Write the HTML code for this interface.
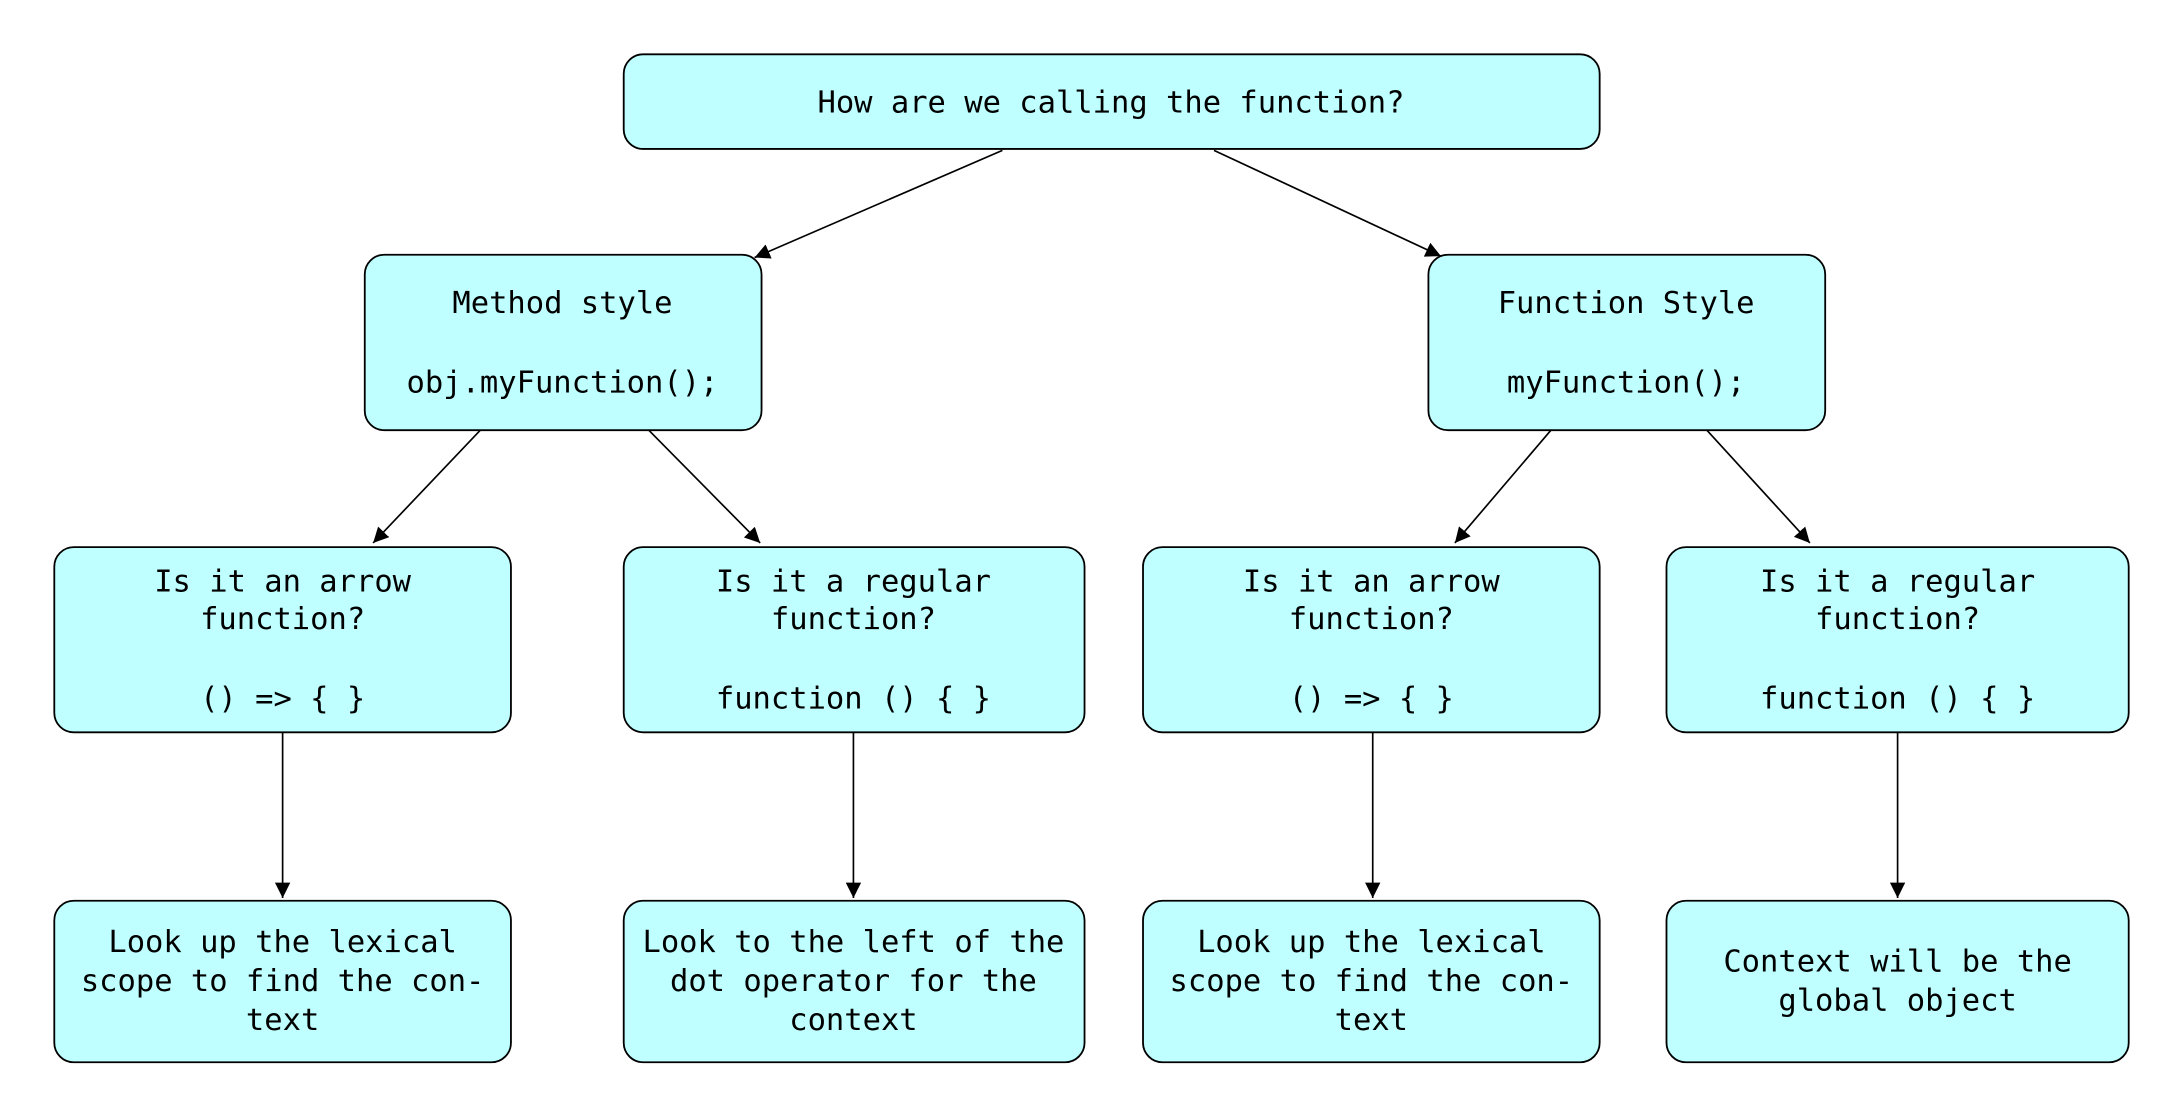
<!DOCTYPE html>
<html><head><meta charset="utf-8"><style>
html,body{margin:0;padding:0;background:#fff;}
svg{display:block}
text{font-family:"DejaVu Sans Mono","Liberation Mono",monospace;font-size:21.9px;fill:#000;text-anchor:middle;dominant-baseline:central}
</style></head><body>
<svg width="2183" height="1116" viewBox="0 0 1568 801.6" preserveAspectRatio="none" xmlns="http://www.w3.org/2000/svg">
<defs><marker id="a" viewBox="0 0 10 10" refX="10" refY="5" markerWidth="11" markerHeight="11" markerUnits="userSpaceOnUse" orient="auto"><path d="M0,0 L10,5 L0,10 z" fill="#000"/></marker></defs>
<g fill="#bfffff" stroke="#000" stroke-width="1.3">
<rect x="448" y="39" width="701" height="68" rx="14"/>
<rect x="262" y="183" width="285" height="126" rx="14"/>
<rect x="1026" y="183" width="285" height="126" rx="14"/>
<rect x="39" y="393" width="328" height="133" rx="14"/>
<rect x="448" y="393" width="331" height="133" rx="14"/>
<rect x="821" y="393" width="328" height="133" rx="14"/>
<rect x="1197" y="393" width="332" height="133" rx="14"/>
<rect x="39" y="647" width="328" height="116" rx="14"/>
<rect x="448" y="647" width="331" height="116" rx="14"/>
<rect x="821" y="647" width="328" height="116" rx="14"/>
<rect x="1197" y="647" width="332" height="116" rx="14"/>
</g>
<g stroke="#000" stroke-width="1.2" marker-end="url(#a)">
<line x1="720" y1="108" x2="542" y2="185"/>
<line x1="872" y1="108" x2="1035" y2="184"/>
<line x1="345" y1="309" x2="268" y2="390"/>
<line x1="466" y1="309" x2="546" y2="390"/>
<line x1="1114" y1="309" x2="1045" y2="390"/>
<line x1="1226" y1="309" x2="1300" y2="390"/>
<line x1="203" y1="526" x2="203" y2="645"/>
<line x1="613" y1="526" x2="613" y2="645"/>
<line x1="986" y1="526" x2="986" y2="645"/>
<line x1="1363" y1="526" x2="1363" y2="645"/>
</g>
<text x="798" y="74">How are we calling the function?</text>
<text x="404" y="218">Method style</text>
<text x="404" y="275">obj.myFunction();</text>
<text x="1168" y="218">Function Style</text>
<text x="1168" y="275">myFunction();</text>
<text x="203" y="418">Is it an arrow</text>
<text x="203" y="445">function?</text>
<text x="203" y="502">() =&gt; { }</text>
<text x="613" y="418">Is it a regular</text>
<text x="613" y="445">function?</text>
<text x="613" y="502">function () { }</text>
<text x="985" y="418">Is it an arrow</text>
<text x="985" y="445">function?</text>
<text x="985" y="502">() =&gt; { }</text>
<text x="1363" y="418">Is it a regular</text>
<text x="1363" y="445">function?</text>
<text x="1363" y="502">function () { }</text>
<text x="203" y="677">Look up the lexical</text>
<text x="203" y="705">scope to find the con-</text>
<text x="203" y="733">text</text>
<text x="613" y="677">Look to the left of the</text>
<text x="613" y="705">dot operator for the</text>
<text x="613" y="733">context</text>
<text x="985" y="677">Look up the lexical</text>
<text x="985" y="705">scope to find the con-</text>
<text x="985" y="733">text</text>
<text x="1363" y="691">Context will be the</text>
<text x="1363" y="719">global object</text>
</svg>
</body></html>
